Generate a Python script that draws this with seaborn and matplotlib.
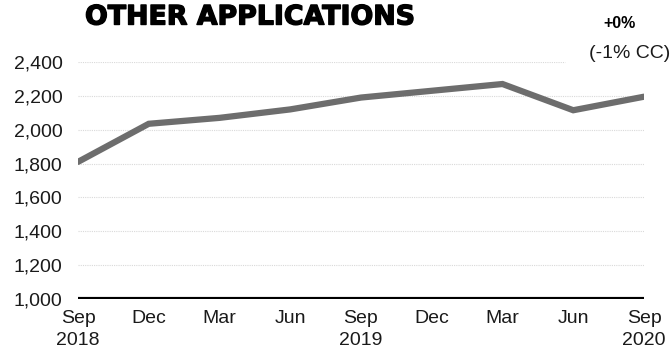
import matplotlib
matplotlib.use("Agg")
import matplotlib.pyplot as plt
import matplotlib.patheffects as pe
import seaborn as sns
import pandas as pd

quarters = ["Sep\n2018", "Dec", "Mar", "Jun", "Sep\n2019", "Dec", "Mar", "Jun", "Sep\n2020"]
revenue = [1810, 2035, 2070, 2120, 2190, 2230, 2270, 2115, 2195]
y_ticks = [1000, 1200, 1400, 1600, 1800, 2000, 2200, 2400]

sns.set_theme(style="white")
plt.rcParams["font.family"] = ["Liberation Sans", "DejaVu Sans"]

df = pd.DataFrame({"idx": range(len(quarters)), "revenue": revenue})

fig = plt.figure(figsize=(6.71, 3.54), dpi=100)
ax = fig.add_axes([78 / 671, 1 - 299 / 354, (644 - 78) / 671, (299 - 62) / 354])

# dotted horizontal gridlines; the top one stops short of the note
for v in y_ticks[1:]:
    xmax = 0.86 if v == 2400 else 1.0
    ax.axhline(v, xmin=0, xmax=xmax, color="#d9d9d9", lw=0.8, ls=(0, (1, 1)), zorder=0)

sns.lineplot(data=df, x="idx", y="revenue", ax=ax, color="#6d6d6d", lw=4.5,
             solid_joinstyle="miter", zorder=3)
ax.axhline(1000, color="black", lw=3, zorder=4, solid_capstyle="butt")

ax.set_xlim(0, len(quarters) - 1)
ax.set_ylim(1000, 2400)
ax.set_yticks(y_ticks)
ax.set_yticklabels([f"{v:,}" for v in y_ticks])
ax.set_xticks(range(len(quarters)))
ax.set_xticklabels(quarters, linespacing=1.4)
ax.tick_params(axis="both", labelsize=14, colors="#1a1a1a", length=0)
ax.tick_params(axis="x", pad=8)
ax.tick_params(axis="y", pad=11)
for s in ax.spines.values():
    s.set_visible(False)
ax.set_xlabel("")
ax.set_ylabel("")
ax.patch.set_alpha(0)

fig.text(85 / 671, 1 - 17.5 / 354, "OTHER APPLICATIONS", fontsize=19.3, fontweight="bold",
         family=["DejaVu Sans"], va="center", ha="left", color="black",
         path_effects=[pe.withStroke(linewidth=1.0, foreground="black")])
fig.text(620 / 671, 1 - 24 / 354, "+0%", fontsize=11.5, fontweight="bold",
         va="center", ha="center", color="black")
fig.text(630 / 671, 1 - 53 / 354, "(-1% CC)", fontsize=14,
         va="center", ha="center", color="#1a1a1a")

fig.savefig("out.png", dpi=100)
